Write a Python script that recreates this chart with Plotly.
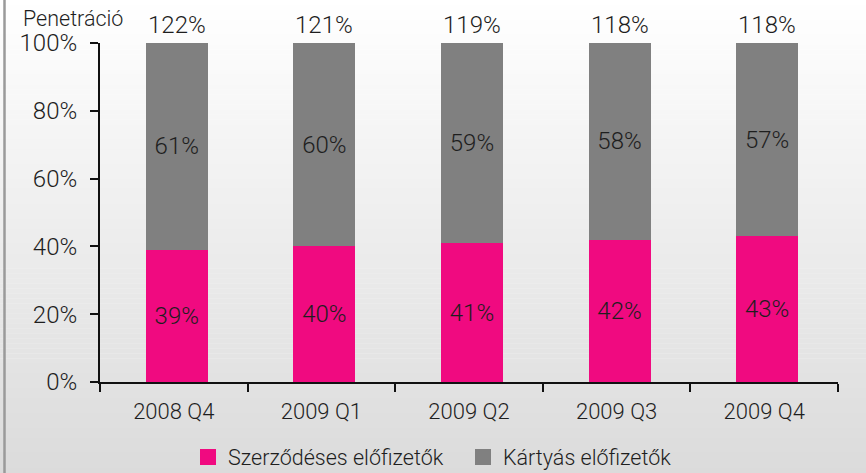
import plotly.graph_objects as go

# ---- data ----
categories = ["2008 Q4", "2009 Q1", "2009 Q2", "2009 Q3", "2009 Q4"]
postpaid = [39, 40, 41, 42, 43]          # Szerződéses előfizetők
prepaid = [61, 60, 59, 58, 57]           # Kártyás előfizetők
penetration = [122, 121, 119, 118, 118]  # Penetráció
series_names = ["Szerződéses előfizetők", "Kártyás előfizetők"]
y_ticks = [0, 20, 40, 60, 80, 100]

# ---- style ----
W, H = 866, 473
ML, MR, MT, MB = 100, 28, 43, 91
PINK = "#F00A80"
GRAY = "#808080"
TXT = "#1e1e1e"
FONT = "Roboto, Liberation Sans, Arial, sans-serif"
WT = 300

def f(size):
    return dict(size=size, color=TXT, family=FONT, weight=WT)

fig = go.Figure()
for vals, name, col in [(postpaid, series_names[0], PINK), (prepaid, series_names[1], GRAY)]:
    fig.add_trace(go.Bar(
        x=categories, y=vals, name=name, marker=dict(color=col, line=dict(width=0)),
        text=[f"{v}%" for v in vals], textposition="inside", insidetextanchor="middle",
        textangle=0, textfont=f(24),
        width=0.42, offset=-0.19, showlegend=False, hoverinfo="skip",
    ))
    # legend proxy with larger square symbol
    fig.add_trace(go.Scatter(
        x=[None], y=[None], mode="markers", name=name,
        marker=dict(symbol="square", size=18, color=col), showlegend=True,
    ))

for c, p in zip(categories, penetration):
    fig.add_annotation(x=c, y=100, xref="x", yref="y", text=f"{p}%", showarrow=False,
                       xshift=3, yanchor="bottom", yshift=2, font=f(24))

pw = W - ML - MR
ph = H - MT - MB
fig.add_annotation(x=(21 - ML) / pw, y=1 + 10 / ph, xref="paper", yref="paper",
                   text="Penetráció", showarrow=False, xanchor="left", yanchor="bottom",
                   font=f(21.5))

# gradient background
x0p, x1p = -ML / pw, 1 + MR / pw
y0p, y1p = -MB / ph, 1 + MT / ph
n = 95
shapes = []
for i in range(n):
    t = (i + 0.5) / n
    v = round(255 - (255 - 219) * t)
    ya = y1p - (y1p - y0p) * i / n
    yb = y1p - (y1p - y0p) * (i + 1) / n
    shapes.append(dict(type="rect", xref="paper", yref="paper", x0=x0p, x1=x1p, y0=yb, y1=ya + 0.001,
                       fillcolor=f"rgb({v},{v},{v})", line=dict(width=0), layer="below"))
shapes.append(dict(type="line", xref="paper", yref="paper", x0=(4.5 - ML) / pw, x1=(4.5 - ML) / pw,
                   y0=y0p, y1=y1p, line=dict(color="#9a9a9a", width=2.5), layer="above"))

fig.update_layout(
    width=W, height=H, margin=dict(l=ML, r=MR, t=MT, b=MB, autoexpand=False),
    barmode="stack", bargap=0.58,
    paper_bgcolor="rgba(0,0,0,0)", plot_bgcolor="rgba(0,0,0,0)",
    font=f(22),
    shapes=shapes,
    legend=dict(orientation="h", x=(463 - ML) / pw, xanchor="center", y=(H - MB - 457) / ph,
                yanchor="middle", traceorder="normal", font=f(21.5), entrywidth=230,
                bgcolor="rgba(0,0,0,0)", itemclick=False),
    xaxis=dict(type="category", showline=True, linecolor="#111", linewidth=2, ticks="outside",
               tickson="boundaries", ticklen=8, tickwidth=2, tickcolor="#111", showgrid=False,
               automargin=False, ticklabelstandoff=9, tickfont=f(22)),
    yaxis=dict(range=[0, 100], tickvals=y_ticks, ticktext=[f"{v}%" for v in y_ticks],
               showline=True, linecolor="#111", linewidth=2, ticks="outside", ticklen=8,
               tickwidth=2, tickcolor="#111", showgrid=False, zeroline=False, automargin=False,
               ticklabelstandoff=8, tickfont=f(24)),
)

fig.write_html("out.html", config={"displayModeBar": False},
               post_script="document.body.style.margin='0';document.body.style.overflow='hidden';")
